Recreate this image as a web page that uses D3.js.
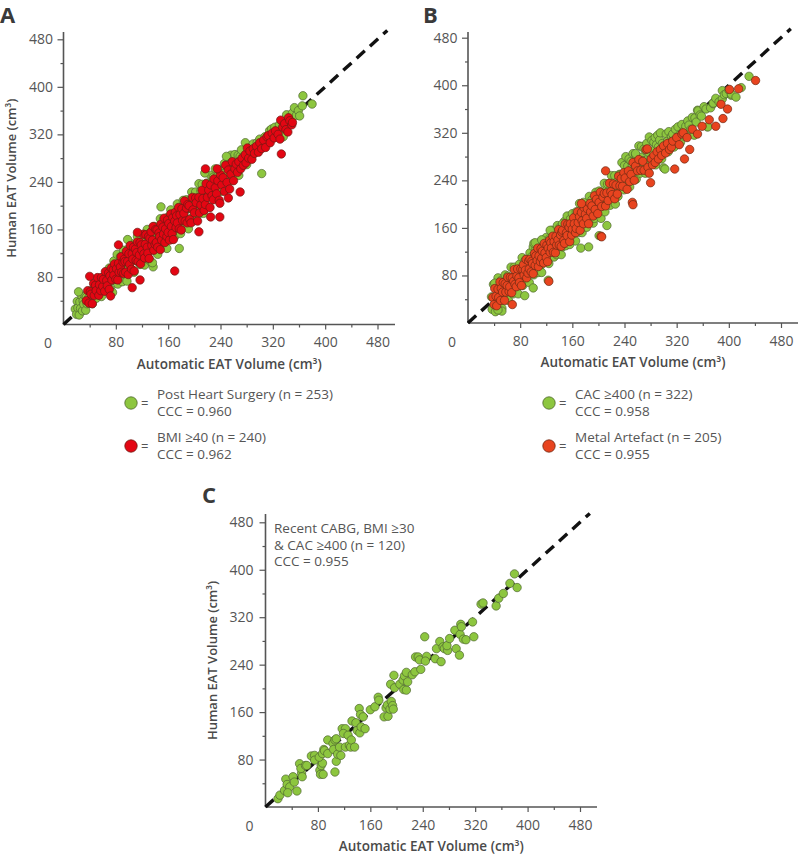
<!DOCTYPE html>
<html><head><meta charset="utf-8">
<script src="https://cdn.jsdelivr.net/npm/d3@7"></script>
<style>body{margin:0;background:#fff} svg{display:block} text{font-family:"Open Sans","Noto Sans",sans-serif}</style>
</head><body><svg id="c" width="799" height="855"></svg>
<script>
const majorTicks=[80,160,240,320,400,480];
const minorTicks=[40,120,200,280,360,440];
const identityLine=[0,495];
const xTitle="Automatic EAT Volume (cm³)";
const yTitle="Human EAT Volume (cm³)";

// Panel A
const aGreenLabel=["Post Heart Surgery (n = 253)","CCC = 0.960"];
const aRedLabel=["BMI ≥40 (n = 240)","CCC = 0.962"];
const aGreen=[[18,26],[20,17],[21,39],[22,28],[24,16],[25,38],[26,27],[28,48],[29,23],[30,40],[31,34],[33,48],[34,24],[35,46],[36,35],[38,44],[39,56],[40,36],[42,44],[43,57],[44,35],[45,55],[47,51],[48,67],[49,47],[50,44],[52,59],[53,69],[54,56],[56,51],[57,69],[58,47],[59,68],[61,75],[62,62],[63,68],[64,82],[66,59],[67,65],[68,81],
[69,70],[70,95],[72,60],[73,89],[74,82],[75,54],[77,107],[78,74],[79,99],[80,84],[82,118],[83,68],[84,96],[85,78],[87,114],[88,88],[89,106],[90,72],[92,125],[93,99],[94,84],[95,117],[97,73],[98,109],[99,127],[100,95],[102,121],[103,106],[104,136],[105,92],[107,121],[108,88],[109,133],[110,108],[112,121],[113,148],[114,106],[115,131],[117,101],[118,138],
[119,127],[120,106],[122,149],[123,126],[124,100],[125,143],[127,121],[128,160],[129,110],[130,141],[132,130],[133,155],[134,105],[135,149],[137,127],[138,143],[139,165],[140,124],[142,137],[143,162],[144,118],[145,158],[147,147],[148,178],[149,138],[150,129],[152,158],[153,177],[154,151],[155,137],[157,173],[158,128],[159,169],[160,181],[162,154],[163,165],[164,193],[165,143],[167,154],[168,186],
[169,183],[170,148],[172,182],[173,159],[174,203],[175,178],[177,169],[178,196],[179,153],[180,188],[182,163],[183,209],[184,181],[186,199],[187,176],[188,210],[190,195],[191,161],[192,208],[194,178],[195,195],[196,223],[198,174],[199,210],[200,194],[202,223],[203,190],[204,210],[206,185],[207,237],[208,206],[210,225],[211,201],[212,236],[214,187],[215,218],[216,226],[218,200],[219,238],[220,215],
[222,234],[223,218],[225,251],[226,234],[228,216],[229,248],[231,232],[232,262],[234,226],[235,249],[237,242],[238,261],[240,224],[241,258],[243,242],[244,254],[246,271],[247,241],[249,251],[250,270],[252,239],[253,269],[255,261],[256,285],[258,256],[259,249],[261,272],[262,286],[264,268],[265,258],[267,285],[268,251],[270,283],[272,294],[274,274],[276,283],[278,306],[280,269],
[282,290],[284,280],[286,298],[288,288],[290,304],[293,294],[296,306],[298,298],[300,312],[305,304],[308,316],[310,306],[313,314],[315,326],[318,329],[320,316],[323,332],[326,324],[330,336],[334,324],[336,316],[338,340],[341,353],[344,338],[348,348],[350,356],[353,365],[356,352],[359,360],[361,351],[365,368],[366,385],[380,371],
[23,55],[98,143],[137,97],[136,104],[149,198],[177,128],[216,255],[249,283],[303,254]];
const aRed=[[35,40],[37,57],[39,36],[41,55],[42,51],[44,35],[46,69],[47,49],[49,66],[50,57],[52,79],[54,49],[55,67],[57,57],[58,79],[60,64],[61,76],[63,56],[64,89],[66,74],[67,65],[69,87],[70,59],[71,82],[73,95],[74,75],[76,92],[77,83],[78,102],[80,76],[81,94],[83,75],[84,103],[85,88],[87,97],[88,114],[89,88],[91,105],[92,86],[93,110],
[94,106],[95,88],[96,123],[98,106],[99,84],[100,119],[101,101],[102,133],[104,93],[105,119],[106,110],[107,130],[108,90],[110,127],[111,108],[112,121],[113,139],[114,106],[116,117],[117,138],[118,102],[119,134],[120,125],[122,152],[123,119],[124,112],[125,135],[126,151],[128,130],[129,120],[130,148],[131,111],[132,145],[134,156],[135,133],[136,142],[137,165],[138,125],[140,135],[141,160],
[142,138],[143,159],[144,130],[146,154],[147,148],[148,126],[149,169],[150,142],[152,164],[153,152],[154,179],[155,138],[156,161],[158,148],[159,176],[160,155],[161,170],[162,142],[164,186],[165,165],[166,153],[167,180],[168,143],[170,174],[171,189],[172,163],[173,183],[174,171],[176,197],[177,161],[178,185],[180,159],[181,195],[182,175],[184,187],[185,208],[186,174],[188,196],[189,171],[190,202],
[192,200],[193,177],[195,171],[197,214],[198,193],[200,188],[202,213],[203,205],[205,174],[207,214],[208,188],[210,201],[212,226],[213,212],[215,192],[217,202],[218,237],[220,214],[222,226],[224,197],[225,235],[227,217],[229,210],[230,245],[232,230],[234,220],[236,242],[238,209],[240,252],[242,235],[244,247],[246,224],[248,268],[250,239],[252,260],[254,228],[256,253],[258,274],[260,242],[262,262],
[40,81],[72,48],[84,134],[105,62],[113,155],[117,75],[170,90],[207,156],[217,262],[225,181],[235,262],[239,181],[239,204],[252,213],[270,223],
[264,270],[266,256],[268,274],[271,262],[273,280],[275,268],[278,286],[279,272],[281,297],[283,280],[285,292],[288,278],[290,296],[292,288],[295,300],[298,290],[300,306],[303,296],[306,310],[309,298],[311,316],[313,318],[316,306],[319,322],[322,314],[324,326],[328,320],[331,312],[332,344],[333,287],[335,332],[338,338],[340,328],[343,324],[344,348],[346,343],[349,336],[350,340]];

// Panel B
const bGreenLabel=["CAC ≥400 (n = 322)","CCC = 0.958"];
const bRedLabel=["Metal Artefact (n = 205)","CCC = 0.955"];
const bGreen=[[36,44],[37,23],[39,65],[40,43],[42,19],[43,60],[44,38],[46,76],[47,29],[48,59],[50,48],[51,72],[52,25],[54,68],[55,46],[56,61],[57,81],[59,44],[60,55],[61,79],[62,38],[64,76],[65,65],[66,94],[68,57],[69,49],[70,76],[71,94],[73,70],[74,57],[75,90],[77,49],[78,87],[79,99],[80,72],[82,84],[83,110],[84,63],[85,73],[87,104],
[88,83],[89,107],[90,73],[91,100],[93,95],[94,68],[95,118],[96,87],[97,111],[98,96],[100,128],[101,81],[102,108],[103,91],[104,124],[105,99],[106,117],[108,85],[109,135],[110,110],[111,96],[112,127],[113,85],[115,120],[116,137],[117,106],[118,130],[119,116],[120,144],[122,104],[123,131],[124,100],[125,142],[126,118],[127,130],[129,156],[130,116],[131,140],[132,111],[133,147],
[134,151],[135,123],[136,115],[137,164],[138,140],[140,132],[141,161],[142,151],[143,115],[144,159],[145,128],[146,143],[148,171],[149,155],[150,130],[151,140],[152,180],[153,153],[155,167],[156,132],[157,175],[158,153],[159,144],[160,184],[162,167],[163,154],[164,178],[165,138],[166,187],[168,166],[169,180],[170,152],[171,201],[172,166],[174,191],[175,152],[176,179],[177,203],[179,165],[180,188],
[181,195],[182,161],[184,193],[185,171],[186,213],[188,191],[189,181],[190,207],[192,168],[193,201],[194,176],[196,220],[197,194],[198,210],[200,189],[201,222],[202,207],[204,176],[205,220],[206,191],[208,208],[209,235],[210,187],[212,223],[213,207],[214,234],[216,204],[217,223],[218,198],[220,248],[221,219],[222,236],[224,215],[225,248],[226,200],[228,230],[229,238],[230,213],[232,250],[233,228],
[234,250],[235,229],[236,270],[238,249],[239,224],[240,265],[241,243],[242,280],[244,234],[245,264],[246,252],[247,276],[248,229],[250,272],[251,250],[252,265],[253,285],[254,247],[256,259],[257,283],[258,242],[259,279],[260,268],[262,298],[263,260],[264,252],[265,279],[266,297],[268,273],[269,260],[270,293],[272,252],[273,290],[274,302],[276,276],[277,287],[278,313],[280,267],[281,277],[282,307],
[284,290],[285,304],[286,276],[287,312],[288,266],[289,300],[291,316],[292,296],[294,308],[295,320],[297,276],[298,302],[300,261],[302,259],[303,296],[304,318],[306,306],[307,288],[308,322],[310,300],[312,314],[313,307],[314,318],[316,296],[318,326],[320,310],[322,330],[324,316],[326,304],[328,334],[330,322],[332,314],[334,316],[334,331],[337,340],[339,333],[342,326],[344,346],[347,316],[348,345],[350,338],[352,358],[353,357],[356,350],[358,348],[362,364],[365,360],[367,330],[368,330],[372,362],[376,369],[376,370],[380,378],[385,372],[390,391],[390,377],[393,384],[396,386],[400,392],[404,383],[404,385],[411,380],[419,396],[431,415],
[41,67],[52,20],[46,22],[87,46],[100,59],[101,134],[103,135],[113,140],[123,72],[126,156],[145,167],[173,126],[185,128],[201,147],[213,164],[257,285]];
const bRed=[[38,43],[40,31],[41,58],[43,45],[44,29],[46,57],[47,43],[49,69],[50,38],[51,58],[53,52],[54,68],[56,38],[57,66],[58,52],[60,63],[61,77],[63,53],[64,61],[65,77],[67,51],[68,76],[70,70],[71,90],[72,65],[74,61],[75,79],[76,91],[78,76],[79,68],[81,91],[82,63],[84,90],[85,98],[86,81],[88,89],[89,107],[90,76],[92,84],[93,104],
[94,91],[95,107],[97,86],[98,104],[99,100],[100,83],[102,117],[103,97],[104,113],[106,105],[107,126],[108,95],[109,113],[111,103],[112,125],[113,109],[114,121],[116,101],[117,134],[118,118],[120,110],[121,131],[122,103],[123,126],[125,139],[126,119],[127,135],[128,126],[130,146],[131,119],[132,137],[134,118],[135,146],[136,131],[138,140],[139,157],[140,131],[142,148],[143,129],[144,153],
[145,156],[147,139],[148,134],[149,167],[151,152],[152,147],[153,166],[155,161],[156,137],[157,167],[159,148],[160,158],[162,177],[163,167],[165,152],[166,159],[168,187],[169,169],[171,179],[172,156],[174,186],[175,172],[177,167],[178,194],[180,183],[182,176],[183,192],[185,167],[187,201],[188,187],[190,197],[192,180],[194,214],[195,191],[197,208],[199,184],[201,203],[203,220],[205,196],[207,212],
[209,218],[211,197],[213,219],[215,206],[217,235],[219,221],[221,216],[223,234],[225,209],[227,232],[229,217],[231,247],[233,231],[235,243],[237,230],[239,253],[241,244],[244,225],[246,256],[248,238],[250,250],[253,270],[255,240],[257,264],[260,256],[262,275],[265,257],[268,272],[270,257],[273,292],
[124,70],[68,31],[174,201],[204,146],[205,145],[211,256],[252,203],[253,199],[275,293],[280,236],[276,262],[278,252],[281,276],[283,266],[285,282],[287,270],[290,288],[292,276],[295,292],[297,282],[300,298],[303,286],[306,302],[309,292],[312,296],[314,306],[317,259],[320,312],[324,300],[328,318],[330,320],[332,276],[336,312],[340,292],[344,326],[352,318],[359,331],[370,342],[380,331],[388,368],[391,344],[398,360],[401,393],[415,394],[441,408]];

// Panel C
const cLabel=["Recent CABG, BMI ≥30","& CAC ≥400 (n = 120)","CCC = 0.955"];
const cGreen=[[19,14],[22,20],[29,28],[31,47],[33,38],[37,34],[34,24],[42,51],[44,42],[48,27],[52,73],[55,57],[56,51],[54,65],[61,70],[63,70],[70,86],[75,87],[75,79],[83,62],[84,55],[85,70],[87,74],[82,84],[88,55],[89,97],[87,90],[90,95],[95,90],[95,113],[103,107],[104,97],[106,113],[108,115],[106,59],[108,77],[110,89],[113,101],[115,87],[117,132],[122,132],[119,124],[122,101],[126,121],[128,104],[130,101],[131,113],[132,145],[136,101],[138,142],[140,129],[143,166],[145,156],[149,152],[144,125],[146,135],[152,132],[160,164],[167,169],[172,185],[173,180],[181,152],[184,167],[186,172],[187,153],[190,165],[191,207],[192,178],[194,171],[195,165],[196,222],[197,201],[205,207],[210,214],[211,198],[215,197],[212,221],[217,211],[215,227],[224,223],[228,228],[229,253],[233,253],[235,248],[237,232],[243,287],[246,254],[244,246],[259,250],[261,267],[266,279],[268,245],[271,270],[273,267],[278,264],[277,272],[281,284],[289,298],[291,267],[296,256],[297,291],[298,308],[299,304],[302,283],[306,282],[316,312],[318,287],[329,342],[332,344],[352,339],[356,352],[363,360],[373,377],[380,393],[384,370]];

const GREEN="#8dc63f", GREEN_S="#4f6630";
const svg=d3.select("#c");
const AX="#555";
const FONT='"Open Sans","Noto Sans",sans-serif';

function panel(cfg){
  const g=svg.append("g");
  const x=d3.scaleLinear().domain([0,480]).range([cfg.left,cfg.x480]);
  const y=d3.scaleLinear().domain([0,480]).range([cfg.bottom,cfg.y480]);
  const xMax=x.invert(cfg.right), yMax=y.invert(cfg.top);
  g.append("text").attr("x",cfg.lx).attr("y",cfg.ly).text(cfg.letter)
    .attr("font-size",22).attr("font-weight",700).attr("fill","#3a3a3a");
  const xMinor=d3.axisBottom(x).tickValues(minorTicks).tickSize(3).tickFormat("").tickSizeOuter(0);
  const yMinor=d3.axisLeft(y).tickValues(minorTicks).tickSize(3).tickFormat("").tickSizeOuter(0);
  const xMaj=d3.axisBottom(x).tickValues(majorTicks).tickSize(5).tickPadding(8).tickSizeOuter(0);
  const yMaj=d3.axisLeft(y).tickValues(majorTicks).tickSize(6).tickPadding(cfg.ypad).tickSizeOuter(0);
  [xMinor,xMaj].forEach(a=>{
    const ga=g.append("g").attr("transform",`translate(0,${cfg.bottom})`).call(a);
    ga.select(".domain").remove();
    ga.selectAll("line").attr("stroke",AX).attr("stroke-width",1.2);
    ga.selectAll("text").attr("font-size",14).attr("fill",AX).attr("font-family",FONT);
  });
  [yMinor,yMaj].forEach(a=>{
    const ga=g.append("g").attr("transform",`translate(${cfg.left},0)`).call(a);
    ga.select(".domain").remove();
    ga.selectAll("line").attr("stroke",AX).attr("stroke-width",1.2);
    ga.selectAll("text").attr("font-size",14).attr("fill",AX).attr("font-family",FONT);
  });
  g.append("line").attr("x1",x(0)).attr("x2",x(xMax)).attr("y1",y(0)).attr("y2",y(0)).attr("stroke",AX).attr("stroke-width",1.6);
  g.append("line").attr("x1",x(0)).attr("x2",x(0)).attr("y1",y(0)).attr("y2",y(yMax)).attr("stroke",AX).attr("stroke-width",1.6);
  g.append("text").attr("x",cfg.zx).attr("y",y(0)+23.5).attr("text-anchor","middle").attr("font-size",14).attr("fill",AX).text("0");
  g.append("text").attr("x",(x(0)+x(xMax))/2).attr("y",y(0)+cfg.xtOff).attr("text-anchor","middle")
    .attr("font-size",13.5).attr("font-weight",600).attr("fill","#4a4a4a").text(xTitle);
  if(cfg.ytitle){
    g.append("text").attr("transform",`translate(${cfg.ytx},${(y(0)+y(yMax))/2}) rotate(-90)`).attr("text-anchor","middle")
      .attr("font-size",13).attr("font-weight",600).attr("fill","#4a4a4a").text(yTitle);
  }
  // identity line beneath the points
  g.append("line").attr("x1",x(identityLine[0])).attr("y1",y(identityLine[0]))
    .attr("x2",x(identityLine[1])).attr("y2",y(identityLine[1]))
    .attr("stroke","#111").attr("stroke-width",3.4).attr("stroke-dasharray","11,7");
  cfg.series.forEach(s=>{
    g.append("g").selectAll("circle").data(s.data).join("circle")
      .attr("cx",d=>x(d[0])).attr("cy",d=>y(d[1])).attr("r",4.2)
      .attr("fill",s.fill).attr("stroke",s.stroke).attr("stroke-width",0.7);
  });
  return {g,x,y};
}

function legendItem(cx,cy,fill,stroke,lines){
  svg.append("circle").attr("cx",cx).attr("cy",cy).attr("r",6.2).attr("fill",fill).attr("stroke",stroke).attr("stroke-width",0.8);
  svg.append("text").attr("x",cx+10).attr("y",cy+5).attr("font-size",13).attr("fill","#555").text("=");
  lines.forEach((t,i)=>svg.append("text").attr("x",cx+26).attr("y",cy-4+i*16.5).attr("font-size",13.5).attr("fill","#555").text(t));
}

const RED_A="#e30613", RED_B="#e8441f";
panel({letter:"A",lx:0,ly:23,left:63.5,x480:377.5,bottom:324.5,y480:39.3,right:395,top:32,ypad:4.5,zx:48,xtOff:44,ytitle:true,ytx:16,
  series:[{data:aGreen,fill:GREEN,stroke:GREEN_S},{data:aRed,fill:RED_A,stroke:"#6e1a12"}]});
panel({letter:"B",lx:423,ly:23,left:468,x480:781,bottom:323,y480:37.7,right:798,top:32,ypad:4.5,zx:452,xtOff:44,ytitle:false,
  series:[{data:bGreen,fill:GREEN,stroke:GREEN_S},{data:bRed,fill:RED_B,stroke:"#6e2a14"}]});
panel({letter:"C",lx:202,ly:503,left:265.5,x480:580,bottom:807,y480:522.3,right:597,top:514,ypad:6,zx:249.5,xtOff:44,ytitle:true,ytx:217,
  series:[{data:cGreen,fill:GREEN,stroke:GREEN_S}]});
cLabel.forEach((t,i)=>svg.append("text").attr("x",274).attr("y",533+i*16.7).attr("font-size",13.5).attr("fill","#555").text(t));

legendItem(131,403,GREEN,GREEN_S,aGreenLabel);
legendItem(131,446,RED_A,"#6e1a12",aRedLabel);
legendItem(549,403,GREEN,GREEN_S,bGreenLabel);
legendItem(549,446,RED_B,"#6e2a14",bRedLabel);
</script></body></html>
